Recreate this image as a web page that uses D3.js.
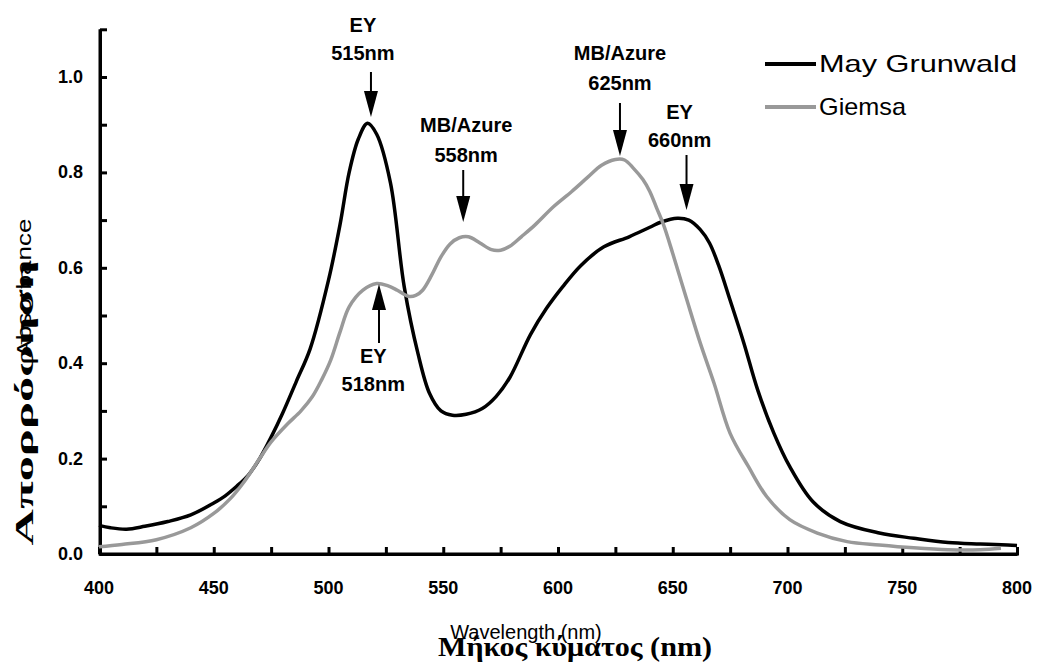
<!DOCTYPE html>
<html><head><meta charset="utf-8">
<script src="https://cdn.jsdelivr.net/npm/d3@7"></script>
<style>
body{margin:0;background:#fff}svg{display:block}
.axis path,.axis line{stroke:#000 !important;stroke-width:3px !important;fill:none}
</style>
</head><body>
<svg id="c" width="1038" height="665"></svg>
<script>
// May Grunwald spectrum
const mgWave = [400,405,412,420,430,440,450,455,460,465,470,475,480,486,492,500,505,509,513,517,521,527,533,539,544,549,554,560,567,573,579,588,595,602,610,620,631,640,645,652,657,662,666,670,675,681,687,694,701,711,723,740,755,770,784,796,800];
const mgAbs  = [0.060,0.055,0.052,0.058,0.068,0.082,0.107,0.122,0.142,0.165,0.200,0.245,0.295,0.362,0.430,0.574,0.690,0.800,0.870,0.903,0.880,0.778,0.560,0.420,0.337,0.300,0.291,0.293,0.305,0.330,0.370,0.460,0.515,0.560,0.605,0.644,0.665,0.685,0.696,0.704,0.700,0.680,0.652,0.605,0.532,0.442,0.344,0.254,0.183,0.110,0.068,0.044,0.033,0.024,0.021,0.019,0.018];
// Giemsa spectrum
const giWave = [400,410,425,440,450,457,463,470,475,482,488,493,497,501,505,509,515,521,526,530,535,538,541,545,549,553,557,561,566,571,575,579,584,590,598,606,613,619,625,629,633,637,640,643,646,650,656,662,668,675,683,691,701,713,726,740,755,770,784,793];
const giAbs  = [0.015,0.020,0.030,0.055,0.085,0.115,0.150,0.200,0.235,0.272,0.300,0.330,0.365,0.407,0.465,0.518,0.553,0.567,0.562,0.553,0.540,0.542,0.553,0.585,0.623,0.650,0.663,0.665,0.652,0.638,0.637,0.645,0.665,0.690,0.728,0.760,0.790,0.815,0.827,0.826,0.808,0.785,0.760,0.725,0.690,0.630,0.535,0.442,0.358,0.253,0.183,0.120,0.072,0.044,0.026,0.019,0.013,0.009,0.009,0.012];
const seriesNames = ["May Grunwald","Giemsa"];
const xTickLabels = [400,450,500,550,600,650,700,750,800];
const yTickLabels = [0.0,0.2,0.4,0.6,0.8,1.0];
// peak annotations
const annArrowWave = [518.5,522,558.7,627,656];
const annTextWave  = [515,519.5,560,627,653];
const annTop  = ["EY","EY","MB/Azure","MB/Azure","EY"];
const annBot  = ["515nm","518nm","558nm","625nm","660nm"];

const svg = d3.select("#c");
const x = d3.scaleLinear().domain([400,800]).range([99,1017]);
const y = d3.scaleLinear().domain([0,1.1]).range([554,29.3]);

const g = svg.append("g");
// axes (ticks inward)
const xAxis = d3.axisBottom(x).tickValues(d3.range(400,801,25)).tickSizeInner(-7).tickSizeOuter(0).tickFormat(()=> "");
const yAxis = d3.axisLeft(y).tickValues(d3.range(0,1.101,0.1)).tickSizeInner(-7).tickSizeOuter(0).tickFormat(()=> "");
g.append("g").attr("class","axis").attr("transform","translate(0,554)").call(xAxis);
g.append("g").attr("class","axis").attr("transform","translate(100,0)").call(yAxis);
// axis base bars from the scales
g.append("rect").attr("x",x.range()[0]).attr("y",y(0)-1.5).attr("width",x.range()[1]-x.range()[0]+2).attr("height",3).attr("fill","#000");
g.append("rect").attr("x",98.5).attr("y",y.range()[1]).attr("width",3).attr("height",y(0)-y.range()[1]+1.5).attr("fill","#000");

const tickFont = "Liberation Sans, Arial, sans-serif";
g.selectAll(".xl").data(xTickLabels).enter().append("text")
 .attr("x",d=>x(d)).attr("y",594).attr("text-anchor","middle")
 .attr("font-family",tickFont).attr("font-weight","bold").attr("font-size",18).text(d=>d);
g.selectAll(".yl").data(yTickLabels).enter().append("text")
 .attr("x",83).attr("y",d=>y(d)+6).attr("text-anchor","end")
 .attr("font-family",tickFont).attr("font-weight","bold").attr("font-size",18).text(d=>d.toFixed(1));

const line = d3.line().x(d=>x(d[0])).y(d=>y(d[1])).curve(d3.curveCatmullRom.alpha(0.5));
g.append("path").datum(mgWave.map((w,i)=>[w,mgAbs[i]])).attr("d",line).attr("fill","none").attr("stroke","#000").attr("stroke-width",3.5);
g.append("path").datum(giWave.map((w,i)=>[w,giAbs[i]])).attr("d",line).attr("fill","none").attr("stroke","#999").attr("stroke-width",3.5);

// legend
const lg = [[seriesNames[0],"#000",64,198],[seriesNames[1],"#999",107,87]];
lg.forEach(([n,c,yy,len])=>{
  g.append("line").attr("x1",765).attr("x2",816).attr("y1",yy).attr("y2",yy).attr("stroke",c).attr("stroke-width",4);
  g.append("text").attr("x",819).attr("y",yy+8).attr("font-family",tickFont).attr("font-size",24)
   .attr("textLength",len).attr("lengthAdjust","spacingAndGlyphs").text(n);
});

// annotations
const annCfg = [
 {t1:25, t2:53, a0:72, a1:117},
 {t1:356, t2:384, a0:343, a1:284},
 {t1:125, t2:155, a0:170, a1:222},
 {t1:53, t2:83, a0:103, a1:156},
 {t1:112, t2:140, a0:155, a1:210}
];
annArrowWave.forEach((w,i)=>{
  const c = annCfg[i];
  const ax = x(w), tx = x(annTextWave[i]);
  g.append("text").attr("x",tx).attr("y",c.t1+7).attr("text-anchor","middle").attr("font-family",tickFont).attr("font-weight","bold").attr("font-size",20).text(annTop[i]);
  g.append("text").attr("x",tx).attr("y",c.t2+7).attr("text-anchor","middle").attr("font-family",tickFont).attr("font-weight","bold").attr("font-size",20).text(annBot[i]);
  const dir = c.a1>c.a0?1:-1;
  const hl = 26, hw = 7;
  g.append("line").attr("x1",ax).attr("x2",ax).attr("y1",c.a0).attr("y2",c.a1-dir*hl).attr("stroke","#000").attr("stroke-width",2);
  g.append("path").attr("d",`M${ax},${c.a1} L${ax-hw},${c.a1-dir*hl} L${ax+hw},${c.a1-dir*hl} Z`).attr("fill","#000");
});

// axis titles
g.append("text").attr("x",526).attr("y",639).attr("text-anchor","middle").attr("font-family",tickFont).attr("font-size",20).text("Wavelength (nm)");
g.append("text").attr("x",575).attr("y",656).attr("text-anchor","middle").attr("font-family","Liberation Serif, Times New Roman, serif").attr("font-weight","bold").attr("font-size",27)
 .attr("textLength",274).attr("lengthAdjust","spacingAndGlyphs").text("Μήκος κύματος (nm)");
g.append("text").attr("transform","translate(33,403) rotate(-90)").attr("text-anchor","middle").attr("font-family","Liberation Serif, Times New Roman, serif").attr("font-weight","bold").attr("font-size",25)
 .attr("textLength",285).attr("lengthAdjust","spacingAndGlyphs").text("Απορρόφηση");
g.append("text").attr("transform","translate(31,288) rotate(-90)").attr("text-anchor","middle").attr("font-family",tickFont).attr("font-size",21)
 .attr("textLength",139).attr("lengthAdjust","spacingAndGlyphs").text("Absorbance");
</script>
</body></html>
